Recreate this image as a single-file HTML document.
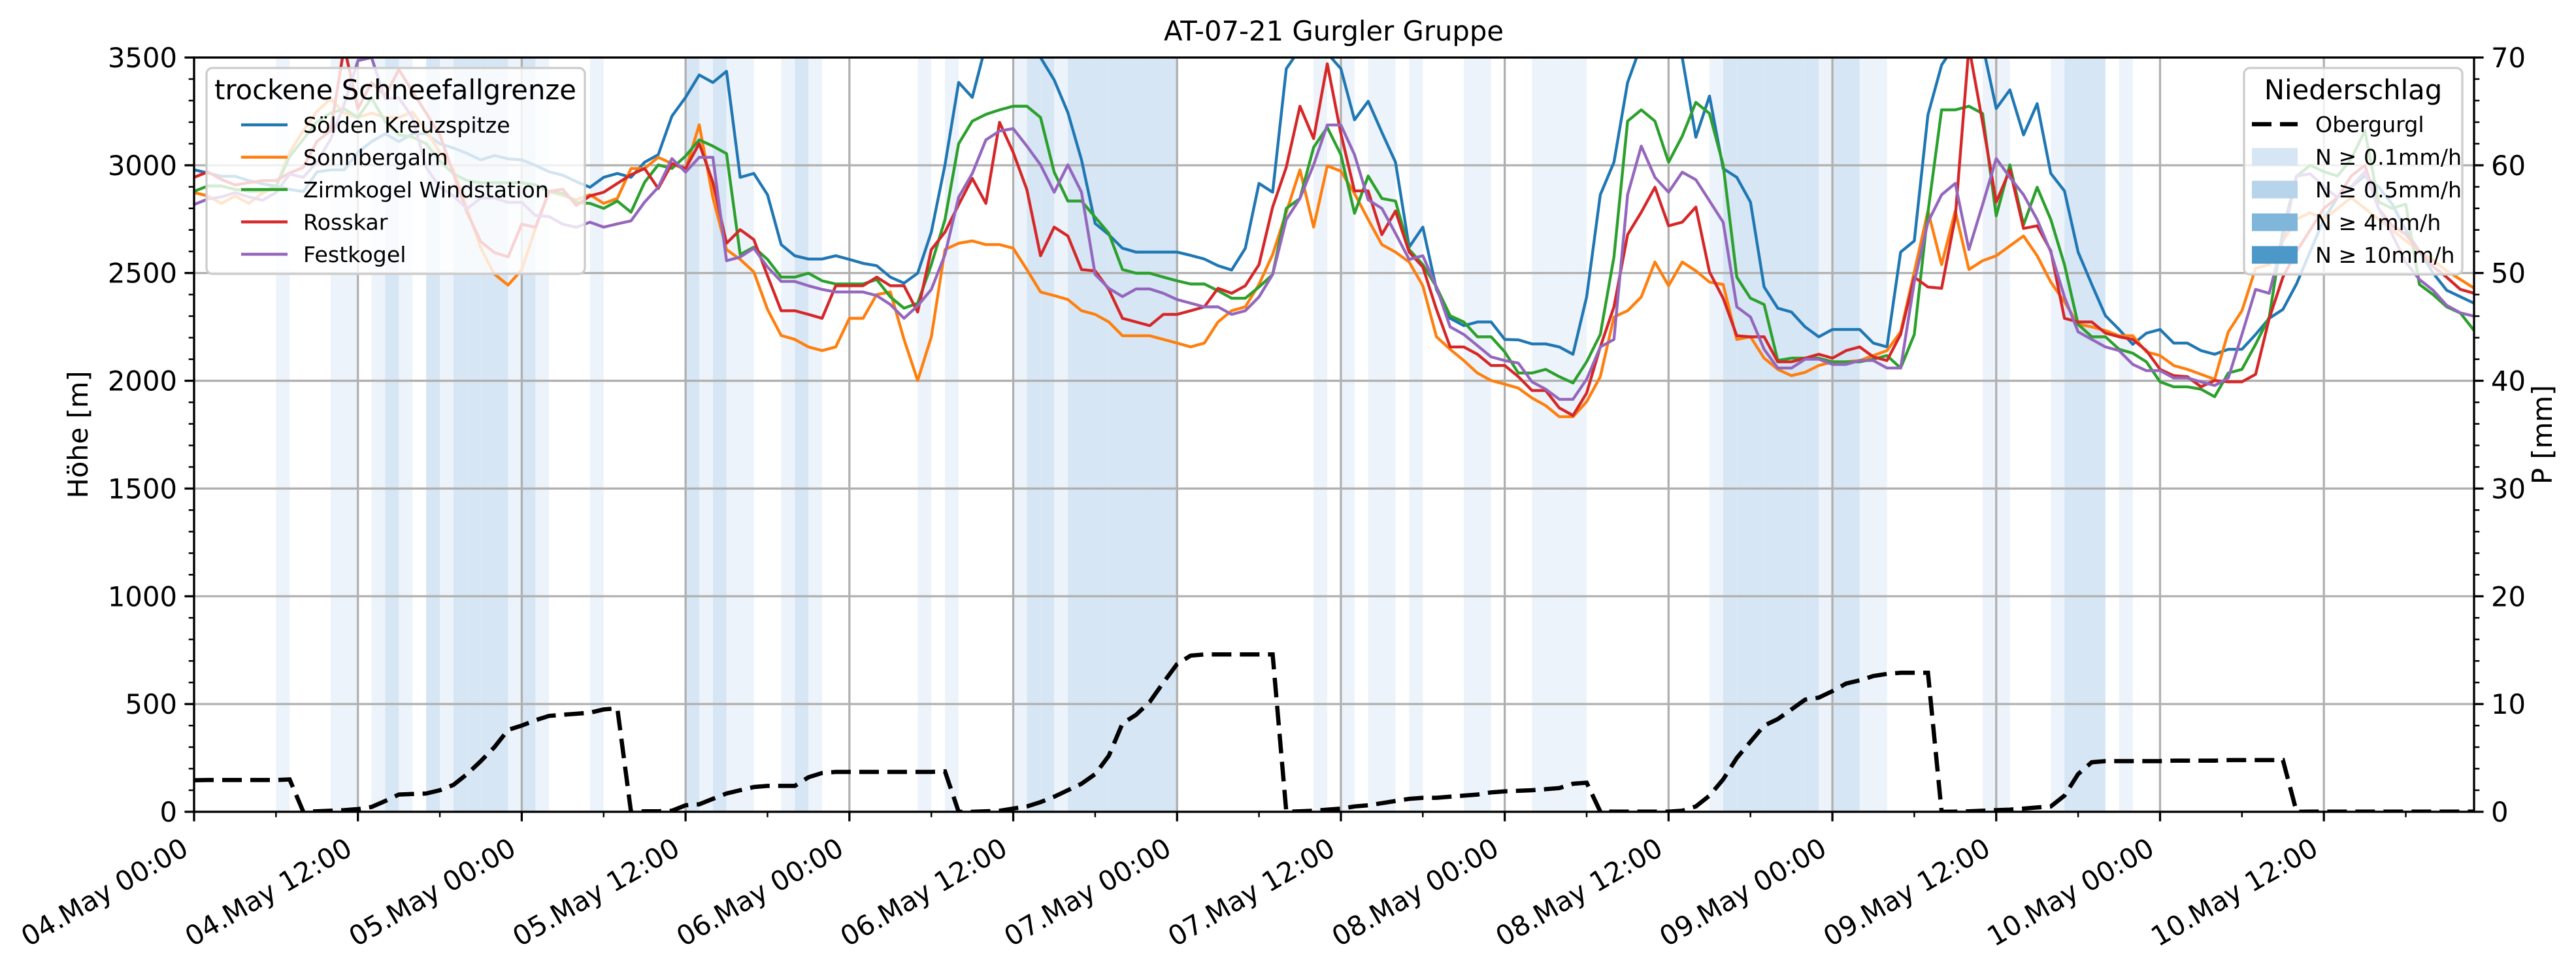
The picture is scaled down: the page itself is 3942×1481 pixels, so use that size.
<!DOCTYPE html>
<html><head><meta charset="utf-8">
<style>
html,body{margin:0;padding:0;background:#fff;}
svg{display:block;font-family:"DejaVu Sans","Liberation Sans",sans-serif;}
</style></head>
<body>
<svg id="chart" width="3942" height="1481" viewBox="0 0 3942 1481" xmlns="http://www.w3.org/2000/svg">
<defs><clipPath id="plotclip"><rect x="297" y="88" width="3489" height="1154"/></clipPath></defs>
<text x="2041" y="62" font-size="41.7" text-anchor="middle">AT-07-21 Gurgler Gruppe</text>
<g id="bands" clip-path="url(#plotclip)"></g>
<g id="grid"></g>
<g id="lines" clip-path="url(#plotclip)"></g>
<g id="legendL"></g>
<g id="precip" clip-path="url(#plotclip)"></g>
<g id="legendR"></g>
<g id="axes"></g>
</svg>
<script>
const hours = Array.from({length:168},(_, i)=>i);
const xTickLabels = ["04.May 00:00","04.May 12:00","05.May 00:00","05.May 12:00","06.May 00:00","06.May 12:00","07.May 00:00","07.May 12:00","08.May 00:00","08.May 12:00","09.May 00:00","09.May 12:00","10.May 00:00","10.May 12:00"];
const yLeftTicks = [0,500,1000,1500,2000,2500,3000,3500];
const yRightTicks = [0,10,20,30,40,50,60,70];
const seriesNames = ["Sölden Kreuzspitze","Sonnbergalm","Zirmkogel Windstation","Rosskar","Festkogel"];
const seriesColors = ["#1f77b4","#ff7f0e","#2ca02c","#d62728","#9467bd"];
const soelden = [2979,2964,2949,2949,2929,2914,2903,2888,2878,2969,2979,2979,
3060,3110,3146,3110,3146,3146,3100,3080,3055,3025,3045,3030,
3025,3000,2970,2954,2924,2898,2944,2962,2944,3014,3049,3228,
3315,3419,3384,3436,2944,2962,2863,2632,2580,2565,2565,2580,
2563,2545,2534,2481,2453,2499,2690,3002,3384,3315,3560,3650,
3700,3650,3500,3396,3245,3025,2730,2678,2615,2597,2597,2597,
2597,2582,2565,2534,2514,2615,2916,2875,3448,3540,3560,3520,
3448,3211,3297,3153,3014,2620,2713,2424,2290,2256,2273,2273,
2192,2190,2171,2171,2157,2123,2389,2863,3014,3384,3560,3650,
3650,3500,3130,3321,2985,2944,2829,2435,2337,2319,2250,2204,
2238,2238,2238,2175,2157,2597,2649,3234,3465,3560,3600,3560,
3263,3350,3141,3286,2962,2881,2597,2447,2302,2238,2169,2221,
2238,2175,2175,2140,2123,2146,2146,2215,2290,2331,2450,2600,
2750,2850,2900,2950,2900,2820,2700,2600,2500,2420,2390,2360];
const sonnbergalm = [2873,2858,2823,2858,2823,2870,2900,3060,3161,3250,3308,3242,
3222,3242,3222,3222,3247,3161,3060,2979,2798,2616,2495,2444,
2515,2707,2878,2860,2840,2863,2823,2846,2985,2985,3037,3008,
2979,3188,2850,2609,2563,2505,2331,2210,2192,2157,2140,2157,
2290,2290,2400,2412,2192,2001,2204,2609,2638,2649,2632,2632,
2615,2516,2412,2395,2377,2325,2308,2273,2209,2209,2209,2192,
2175,2157,2175,2273,2325,2343,2447,2586,2782,2979,2713,2997,
2973,2869,2748,2632,2597,2551,2441,2204,2146,2094,2036,2001,
1984,1966,1920,1885,1833,1833,1903,2019,2296,2325,2389,2551,
2441,2551,2510,2458,2447,2192,2204,2105,2053,2024,2039,2071,
2088,2088,2094,2117,2140,2227,2505,2788,2539,2788,2516,2557,
2580,2626,2672,2580,2458,2366,2262,2250,2233,2209,2209,2134,
2117,2071,2053,2030,2007,2227,2325,2522,2539,2650,2750,2780,
2750,2800,2850,2800,2750,2700,2650,2600,2560,2510,2470,2430];
const zirmkogel = [2879,2904,2904,2888,2880,2880,2900,3040,3120,3202,3242,3262,
3222,3313,3202,3141,3131,3100,3020,2960,2929,2919,2919,2919,
2919,2909,2879,2870,2828,2823,2800,2834,2782,2921,3002,2985,
3043,3118,3089,3054,2586,2620,2563,2481,2481,2499,2464,2449,
2449,2449,2470,2389,2337,2360,2539,2748,3100,3205,3236,3257,
3274,3274,3222,2968,2834,2834,2759,2684,2516,2499,2499,2481,
2464,2449,2449,2418,2383,2383,2435,2493,2800,2846,3083,3176,
3049,2777,2950,2846,2834,2609,2539,2435,2302,2273,2204,2204,
2134,2036,2036,2053,2019,1990,2088,2215,2574,3205,3257,3205,
3014,3135,3292,3240,3002,2481,2383,2354,2094,2105,2105,2105,
2088,2088,2088,2100,2117,2059,2215,2782,3257,3257,3274,3240,
2765,3002,2724,2898,2748,2539,2262,2204,2204,2146,2128,2088,
1995,1972,1972,1961,1926,2036,2053,2169,2296,2700,2950,3000,
2970,2950,3030,3160,2830,2800,2820,2447,2400,2343,2314,2233];
const rosskar = [2944,2969,2934,2909,2919,2929,2929,2964,2990,3111,3161,3550,
3262,3384,3323,3444,3343,3242,3141,2960,2780,2646,2595,2575,
2727,2712,2879,2889,2813,2858,2875,2916,2956,2985,2892,3008,
2985,3101,2921,2638,2701,2655,2487,2325,2325,2308,2290,2441,
2441,2441,2481,2441,2441,2319,2609,2690,2817,2939,2823,3199,
3060,2887,2580,2713,2672,2516,2510,2424,2290,2273,2256,2308,
2308,2325,2343,2429,2406,2441,2539,2806,2991,3274,3124,3471,
3147,2881,2881,2678,2788,2597,2528,2331,2157,2157,2123,2071,
2071,2019,1955,1955,1874,1839,1943,2157,2343,2678,2782,2898,
2719,2736,2806,2505,2383,2209,2204,2204,2088,2088,2105,2123,
2105,2140,2157,2111,2094,2215,2481,2435,2429,2759,3550,3199,
2829,2979,2707,2719,2603,2290,2273,2273,2221,2204,2192,2140,
2053,2024,2019,1972,2001,1995,1995,2030,2290,2481,2600,2700,
2800,2850,2950,3000,2800,2720,2680,2600,2530,2480,2424,2406];
const festkogel = [2818,2843,2853,2873,2853,2838,2873,2959,2944,3015,3121,3283,
3485,3500,3308,3313,3222,2990,2898,2858,2798,2848,2848,2828,
2828,2767,2762,2727,2712,2736,2713,2728,2742,2829,2898,3031,
2968,3037,3037,2557,2574,2615,2528,2461,2461,2441,2424,2412,
2412,2412,2395,2354,2290,2348,2424,2586,2852,2962,3118,3159,
3170,3089,3002,2875,3002,2875,2493,2429,2391,2426,2426,2406,
2377,2360,2343,2343,2308,2325,2389,2493,2748,2846,3002,3187,
3187,3049,2840,2800,2684,2563,2580,2435,2250,2215,2163,2111,
2094,2082,1995,1961,1914,1914,2007,2157,2192,2863,3089,2944,
2875,2968,2933,2835,2736,2343,2296,2146,2059,2059,2100,2100,
2076,2076,2094,2094,2059,2059,2458,2736,2863,2916,2609,2817,
3031,2944,2863,2748,2597,2389,2227,2192,2157,2140,2076,2047,
2047,2013,2013,1995,1978,2013,2215,2424,2406,2655,2950,2960,
2900,2850,2900,2970,2800,2680,2550,2470,2420,2350,2315,2300];
const obergurgl = [2.93,2.95,2.95,2.95,2.95,2.95,2.95,3.0,0,0.05,0.1,0.15,
0.25,0.45,1.0,1.6,1.65,1.7,2.0,2.5,3.5,4.7,6.0,7.6,
8.0,8.5,8.9,9.0,9.1,9.2,9.5,9.6,0,0.05,0.05,0.1,
0.6,0.7,1.2,1.7,2.0,2.3,2.4,2.4,2.4,3.2,3.6,3.7,
3.7,3.7,3.7,3.7,3.7,3.7,3.7,3.75,0,0,0.05,0.1,
0.3,0.5,0.9,1.4,2.0,2.6,3.5,5.2,8.2,9.0,10.2,12.0,
13.7,14.5,14.6,14.6,14.6,14.6,14.6,14.6,0,0.05,0.1,0.2,
0.3,0.5,0.6,0.8,1.0,1.2,1.3,1.3,1.4,1.5,1.6,1.8,
1.9,1.95,2.0,2.1,2.2,2.6,2.7,0.02,0.02,0.02,0.02,0.02,
0.02,0.1,0.5,1.5,3.0,5.0,6.5,8.0,8.6,9.5,10.4,10.6,
11.2,11.9,12.2,12.6,12.8,12.9,12.9,12.9,0,0.02,0.05,0.1,
0.15,0.2,0.3,0.4,0.5,1.5,3.5,4.6,4.7,4.7,4.7,4.7,
4.7,4.75,4.75,4.75,4.75,4.8,4.8,4.8,4.8,4.8,0,0.02,
0.02,0.02,0.02,0.02,0.02,0.02,0.02,0.02,0.02,0.02,0.02,0.02];
const rainLightHours = [6,10,11,13,15,18,23,25,29,37,39,40,43,45,53,55,60,63,82,84,86,87,89,93,94,98,99,100,101,111,119,122,123,131,132,136,141];
const rainMediumHours = [14,17,19,20,21,22,24,36,38,44,61,62,64,65,66,67,68,69,70,71,112,113,114,115,116,117,118,120,121,137,138,139];
const precipLegendLabels = ["N ≥ 0.1mm/h","N ≥ 0.5mm/h","N ≥ 4mm/h","N ≥ 10mm/h"];

const L=297,R=3786,T=88,B=1242,HMAX=167;
const NS="http://www.w3.org/2000/svg";
function xs(h){return L+(h/HMAX)*(R-L);}
function yl(v){return B-(v/3500)*(B-T);}
function yr(p){return B-(p/70)*(B-T);}
function mk(tag,attrs,parent){const e=document.createElementNS(NS,tag);for(const k in attrs)e.setAttribute(k,attrs[k]);parent.appendChild(e);return e;}

// bands
const gB=document.getElementById('bands');
rainLightHours.forEach(h=>{
  const r=mk('rect',{x:xs(h),y:T,width:xs(h+1)-xs(h),height:B-T,fill:'#edf3fa'},gB);
  
  
});
rainMediumHours.forEach(h=>{
  const r=mk('rect',{x:xs(h),y:T,width:xs(h+1)-xs(h),height:B-T,fill:'#d6e6f4'},gB);
  
  
});

// grid
const gG=document.getElementById('grid');
xTickLabels.forEach((_,i)=>{
  const x=xs(i*12);
  const l=mk('line',{x1:x,x2:x,y1:T,y2:B,stroke:'#b0b0b0','stroke-width':3.3},gG);
  
  
});
yLeftTicks.forEach(v=>{
  const y=yl(v);
  const l=mk('line',{x1:L,x2:R,y1:y,y2:y,stroke:'#b0b0b0','stroke-width':3.3},gG);
  
  
});

// series
const gL=document.getElementById('lines');
const allSeries=[soelden,sonnbergalm,zirmkogel,rosskar,festkogel];
allSeries.forEach((s,si)=>{
  const d=s.map((v,i)=>(i?'L':'M')+xs(hours[i]).toFixed(1)+','+yl(v).toFixed(1)).join('');
  const p=mk('path',{d:d,fill:'none',stroke:seriesColors[si],'stroke-width':4.4,'stroke-linejoin':'round'},gL);
  
  
});

// left legend
const gLL=document.getElementById('legendL');
const lb=mk('rect',{x:316,y:104,width:579,height:315,rx:9,fill:'#fff','fill-opacity':0.8,stroke:'#cccccc','stroke-width':3.3},gLL);


const lt=mk('text',{x:605,y:152,'font-size':41.7,'text-anchor':'middle'},gLL);
lt.textContent='trockene Schneefallgrenze';


seriesNames.forEach((n,i)=>{
  const y=191+i*49.5;
  const hl=mk('line',{x1:369,x2:440,y1:y,y2:y,stroke:seriesColors[i],'stroke-width':4.4},gLL);
  
  
  const t=mk('text',{x:464,y:y+12,'font-size':33.3},gLL);
  t.textContent=n;
  
  
});

// precip line
const gP=document.getElementById('precip');
const dP=obergurgl.map((v,i)=>(i?'L':'M')+xs(hours[i]).toFixed(1)+','+yr(v).toFixed(1)).join('');
const pp=mk('path',{d:dP,fill:'none',stroke:'#000','stroke-width':6.5,'stroke-dasharray':'30 13'},gP);



// right legend
const gR=document.getElementById('legendR');
const rb=mk('rect',{x:3434,y:104,width:334,height:316,rx:9,fill:'#fff','fill-opacity':0.8,stroke:'#cccccc','stroke-width':3.3},gR);


const rt=mk('text',{x:3601,y:152,'font-size':41.7,'text-anchor':'middle'},gR);
rt.textContent='Niederschlag';


const dl=mk('line',{x1:3446,x2:3516,y1:190,y2:190,stroke:'#000','stroke-width':6.5,'stroke-dasharray':'30 13'},gR);


const ot=mk('text',{x:3543,y:202,'font-size':33.3},gR);
ot.textContent='Obergurgl';


const pc=['#d6e6f4','#b7d4ea','#7fb6d9','#4b98c9'];
precipLegendLabels.forEach((n,i)=>{
  const y=240+i*50;
  const r=mk('rect',{x:3446,y:y-13.5,width:70,height:27,fill:pc[i]},gR);
  
  
  const t=mk('text',{x:3543,y:y+12,'font-size':33.3},gR);
  t.textContent=n;
  
  
});

// axes
const gA=document.getElementById('axes');
const fr=mk('rect',{x:L,y:T,width:R-L,height:B-T,fill:'none',stroke:'#000','stroke-width':3.3},gA);


for(let v=0;v<=3500;v+=100){
  const y=yl(v),maj=v%500===0;
  const t=mk('line',{x1:L,x2:L-(maj?14.6:8.3),y1:y,y2:y,stroke:'#000','stroke-width':maj?3.3:2.5},gA);
  
  
}
yLeftTicks.forEach(v=>{
  const t=mk('text',{x:L-26,y:yl(v)+15,'font-size':41.7,'text-anchor':'end'},gA);
  t.textContent=v;
  
  
});
for(let p=0;p<=70;p+=2){
  const y=yr(p),maj=p%10===0;
  const t=mk('line',{x1:R,x2:R+(maj?14.6:8.3),y1:y,y2:y,stroke:'#000','stroke-width':maj?3.3:2.5},gA);
  
  
}
yRightTicks.forEach(p=>{
  const t=mk('text',{x:R+26,y:yr(p)+15,'font-size':41.7},gA);
  t.textContent=p;
  
  
});
for(let h=0;h<=HMAX;h+=6){
  const x=xs(h),maj=h%12===0;
  const t=mk('line',{x1:x,x2:x,y1:B,y2:B+(maj?14.6:8.3),stroke:'#000','stroke-width':maj?3.3:2.5},gA);
  
  
}
xTickLabels.forEach((s,i)=>{
  const x=xs(i*12)-6,y=1306;
  const t=mk('text',{x:x,y:y,'font-size':41.7,'text-anchor':'end',transform:'rotate(-30 '+x+' '+y+')'},gA);
  t.textContent=s;
  
  
});
const yt=mk('text',{x:134,y:665,'font-size':41.7,'text-anchor':'middle',transform:'rotate(-90 134 665)'},gA);
yt.textContent='Höhe [m]';


const yt2=mk('text',{x:3905,y:665,'font-size':41.7,'text-anchor':'middle',transform:'rotate(-90 3905 665)'},gA);
yt2.textContent='P [mm]';


</script>
</body></html>
